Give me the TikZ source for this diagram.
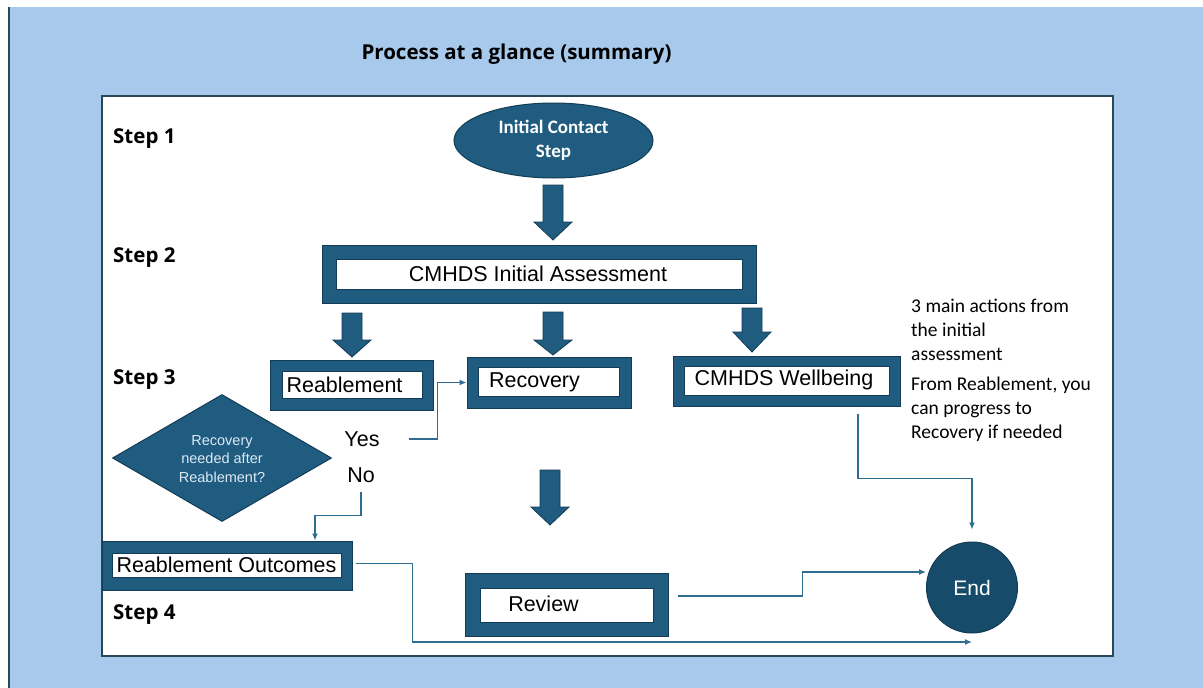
\documentclass[tikz,border=0pt]{standalone}
\usepackage{fontspec}
\setmainfont{Liberation Sans}
\newfontfamily\calib{Carlito}
\newfontfamily\headf{Open Sans}
\usetikzlibrary{shapes.geometric,arrows.meta,calc}
\definecolor{bgblue}{HTML}{A7C9EB}
\definecolor{boxblue}{HTML}{1F5C80}
\definecolor{boxedge}{HTML}{123C55}
\definecolor{endblue}{HTML}{164B69}
\definecolor{linkblue}{HTML}{2E6C92}
\definecolor{framec}{HTML}{2B4659}
\definecolor{dtext}{HTML}{DCE9F5}
\tikzset{
  obox/.style={rectangle, fill=boxblue, draw=boxedge, line width=1pt, inner sep=0pt},
  ibox/.style={rectangle, fill=white, draw=boxedge, line width=0.8pt, inner sep=0pt},
  btext/.style={inner sep=0pt, font=\fontsize{21.5}{26}\selectfont},
  stepl/.style={anchor=west, inner sep=0pt, font=\headf\bfseries\fontsize{20.5}{24}\selectfont},
  sidetext/.style={anchor=west, inner sep=0pt, align=left, font=\calib\fontsize{19.5}{24}\selectfont},
  barrow/.style={fill=boxblue, draw=boxedge, line width=0.8pt},
  link/.style={draw=linkblue, line width=1.3pt, -{Latex[length=7pt,width=6pt]}}
}
\newcommand\blockarrow[4]{% cx, ytop, yhead, ytip
  \draw[barrow] (#1-10,#2) -- (#1+10,#2) -- (#1+10,#3) -- (#1+19,#3) -- (#1,#4) -- (#1-19,#3) -- (#1-10,#3) -- cycle;}
\begin{document}
\begin{tikzpicture}[x=1pt,y=-1pt]
\useasboundingbox (0,0) rectangle (1203,688);
\fill[white] (0,0) rectangle (1203,688);
\fill[bgblue] (8,7) rectangle (1203,688);
\draw[framec, line width=2pt] (9,7) -- (9,688);
\draw[framec, line width=1.8pt, fill=white] (102,96) rectangle (1113,656);

\node[inner sep=0pt, font=\headf\bfseries\fontsize{20.5}{24}\selectfont] (title) at (516.5,54) {Process at a glance (summary)};

\node[stepl] (s1) at (113,139) {Step 1};
\node[stepl] (s2) at (113,258) {Step 2};
\node[stepl] (s3) at (113,380) {Step 3};
\node[stepl] (s4) at (113,615) {Step 4};

% Initial contact
\node[ellipse, fill=boxblue, draw=boxedge, line width=1pt, minimum width=199pt, minimum height=75pt, inner sep=0pt, text=white, align=center, font=\calib\bfseries\fontsize{19}{24}\selectfont] (ic) at (553.5,140.5) {Initial Contact\\Step};

% CMHDS Initial Assessment
\node[obox, minimum width=434pt, minimum height=58pt] (ia) at (539,274) {};
\node[ibox, minimum width=406pt, minimum height=30pt] (ia-i) at (539,274) {};
\node[btext] (ia-t) at (538,274) {CMHDS Initial Assessment};

% Reablement
\node[obox, minimum width=163pt, minimum height=50pt] (rea) at (351.5,385) {};
\node[ibox, minimum width=140pt, minimum height=27pt] (rea-i) at (352,384.5) {};
\node[btext] (rea-t) at (344.5,385) {Reablement};

% Recovery
\node[obox, minimum width=164pt, minimum height=51pt] (rec) at (549,382.5) {};
\node[ibox, minimum width=141pt, minimum height=29pt] (rec-i) at (548.5,381.5) {};
\node[btext] (rec-t) at (534.5,382) {Recovery};

% Wellbeing
\node[obox, minimum width=227pt, minimum height=50pt] (wb) at (786.5,381) {};
\node[ibox, minimum width=205pt, minimum height=29pt] (wb-i) at (786.5,380.5) {};
\node[btext] (wb-t) at (784,380) {CMHDS Wellbeing};

% Reablement Outcomes
\node[obox, minimum width=250pt, minimum height=49pt] (ro) at (227,565.5) {};
\node[ibox, minimum width=229pt, minimum height=24pt] (ro-i) at (226.5,565) {};
\node[btext] (ro-t) at (226.5,565) {Reablement Outcomes};

% Review
\node[obox, minimum width=203pt, minimum height=63pt] (rev) at (566.5,604.5) {};
\node[ibox, minimum width=173pt, minimum height=34pt] (rev-i) at (566.5,605) {};
\node[btext] (rev-t) at (543.5,604) {Review};

% Decision
\node[diamond, fill=boxblue, draw=boxedge, line width=1pt, minimum width=219pt, minimum height=127pt, inner sep=0pt] (dec) at (222,458) {};
\node[inner sep=0pt, text=dtext, align=center, font=\fontsize{14.5}{18.5}\selectfont] (dec-t) at (222,459) {Recovery\\needed after\\Reablement?};

\node[btext] (yes) at (362,439) {Yes};
\node[btext] (no) at (361,475) {No};

% End
\node[circle, fill=endblue, draw=boxedge, line width=1pt, minimum size=91pt, inner sep=0pt, text=white, font=\fontsize{21}{25}\selectfont] (end) at (972,587.5) {End};

% side text
\node[sidetext] (note1) at (911,330) {3 main actions from\\the initial\\assessment};
\node[sidetext] (note2) at (911,409) {From Reablement, you\\can progress to\\Recovery if needed};

% block arrows
\blockarrow{553}{185}{222}{240}
\blockarrow{352}{313}{340}{357}
\blockarrow{553}{312}{340}{355}
\blockarrow{752}{308}{332}{352}
\blockarrow{550}{470}{507}{525}

% connectors
\coordinate (yesout) at ($(yes.east)+(29pt,0pt)$);
\draw[link] (yesout) -- ++(29,0) |- (rec.west);
\coordinate (noout) at ($(no.south)+(0pt,-9pt)$);
\draw[link] (noout) -- ++(0,24) -| ([xshift=88pt]ro.north);
\coordinate (wbout) at ([xshift=71.5pt,yshift=-7pt]wb.south);
\draw[link] (wbout) -- ++(0,65) -| ([yshift=12pt]end.north);
\coordinate (revout) at ([xshift=9pt,yshift=8.5pt]rev.east);
\draw[link] (revout) -- ++(125,0) |- ([yshift=15.5pt]end.west);
\coordinate (roout) at ([xshift=3pt,yshift=2pt]ro.east);
\coordinate (rofree) at (972,642);
\draw[link] (roout) -- ++(57,0) |- (rofree);
\end{tikzpicture}
\end{document}
